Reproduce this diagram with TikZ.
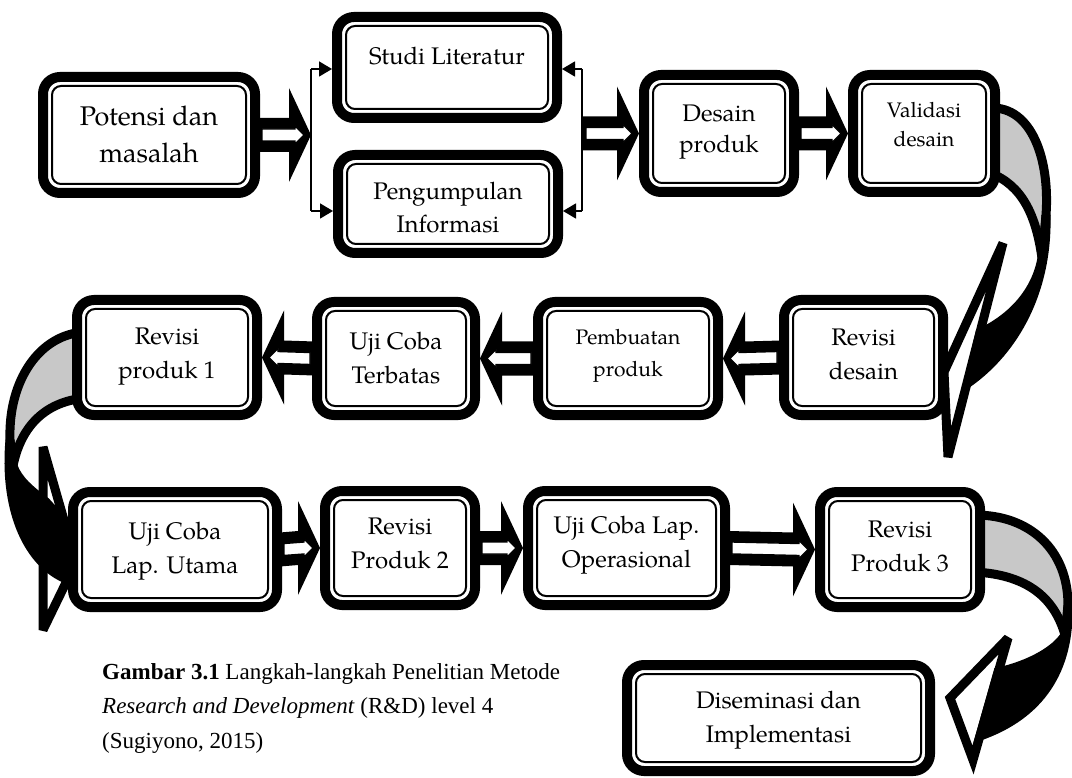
\documentclass[tikz,border=0pt]{standalone}
\usepackage{fontspec}
\setmainfont{TeX Gyre Pagella}
\newfontfamily\capfont{Liberation Serif}
\usetikzlibrary{calc,arrows.meta}
\definecolor{backgray}{RGB}{200,200,200}
\newcommand{\blockarrow}[3]{%
  \fill[black] ($(#1)+(0,-17)$) -- ($(#2)+({-22*#3},-17)$) -- ($(#2)+({-22*#3},-47)$) -- (#2) -- ($(#2)+({-22*#3},47)$) -- ($(#2)+({-22*#3},17)$) -- ($(#1)+(0,17)$) -- cycle;
  \draw[line width=1.4pt, fill=white] ($(#1)+({4*#3},-6)$) -- ($(#2)+({-16*#3},-6)$) -- ($(#2)+({-16*#3},-9)$) -- ($(#2)+({-7*#3},0)$) -- ($(#2)+({-16*#3},9)$) -- ($(#2)+({-16*#3},6)$) -- ($(#1)+({4*#3},6)$) -- cycle;
}
\begin{document}
\begin{tikzpicture}[x=1pt,y=-1pt,
  box/.style={draw=black, line width=10pt, rounded corners=17pt, fill=white, inner sep=0pt},
  innerline/.style={draw=black, line width=2pt, rounded corners=9pt},
  txt/.style={inner sep=0pt, align=center, font=\fontsize{24}{34}\selectfont},
  brk/.style={draw=black, line width=1.5pt},
  curv/.style={draw=black, line width=9pt, line join=miter, miter limit=4},
  backf/.style={curv, fill=backgray},
  frontf/.style={curv, fill=black},
  headf/.style={curv, fill=white}
]
\fill[white] (0,0) rectangle (1072,778);
\useasboundingbox (0,0) rectangle (1072,778);

% ---- curved arrows (behind boxes)
% A: Validasi desain -> Revisi desain
\draw[backf] (990,108) .. controls (1032,106) and (1050,160) .. (1046,215) .. controls (1045,235) and (1044,248) .. (1042,258) .. controls (1036,215) and (1022,185) .. (990,173) -- cycle;
\draw[headf] (1003,243) -- (944,372) -- (948,457) -- cycle;
\draw[frontf] (1046,215) .. controls (1048,290) and (1015,350) .. (968,383) -- (980,333) .. controls (1012,318) and (1036,292) .. (1042,258) -- cycle;
% B: Revisi produk 1 -> Uji Coba Lap. Utama
\draw[backf] (85,332) .. controls (40,334) and (8,380) .. (10,440) .. controls (10,450) and (11,458) .. (13,466) .. controls (20,430) and (42,402) .. (85,398) -- cycle;
\draw[headf] (43,447) -- (76,562) -- (43,630) -- cycle;
\draw[frontf] (10,440) .. controls (4,505) and (25,560) .. (64,578) -- (64,522) -- (46,502) .. controls (30,490) and (18,480) .. (13,466) -- cycle;
% C: Revisi Produk 3 -> Diseminasi
\draw[backf] (975,515) .. controls (1030,515) and (1068,550) .. (1068,605) .. controls (1068,615) and (1067,625) .. (1065,635) .. controls (1055,600) and (1030,575) .. (975,572) -- cycle;
\draw[headf] (1008,638) -- (950,698) -- (973,760) -- cycle;
\draw[frontf] (1068,605) .. controls (1070,670) and (1040,715) .. (980,736) -- (998,672) .. controls (1030,665) and (1056,650) .. (1065,635) -- cycle;

% ---- boxes
\node[box, minimum width=212pt, minimum height=116pt] (p) at (149,135) {};
\node[box, minimum width=220pt, minimum height=101pt] (sl) at (447,67.5) {};
\node[box, minimum width=220pt, minimum height=98pt] (pi) at (448,204) {};
\node[box, minimum width=150pt, minimum height=117pt] (dp) at (719,133.5) {};
\node[box, minimum width=142pt, minimum height=117pt] (vd) at (924,133.5) {};
\node[box, minimum width=180pt, minimum height=115pt] (rp1) at (167,357.5) {};
\node[box, minimum width=158pt, minimum height=113pt] (uct) at (396,358.5) {};
\node[box, minimum width=180pt, minimum height=113pt] (pp) at (628,358.5) {};
\node[box, minimum width=159pt, minimum height=115pt] (rd) at (863.5,357.5) {};
\node[box, minimum width=204pt, minimum height=115pt] (uclu) at (175,549.5) {};
\node[box, minimum width=150pt, minimum height=114pt] (rp2) at (400,548) {};
\node[box, minimum width=197pt, minimum height=114pt] (uclo) at (626.5,548) {};
\node[box, minimum width=160pt, minimum height=115pt] (rp3) at (900,549.5) {};
\node[box, minimum width=303pt, minimum height=106pt] (di) at (778.5,718) {};
\foreach \n in {p,sl,pi,dp,vd,rp1,uct,pp,rd,uclu,rp2,uclo,rp3,di}{
  \draw[innerline] ([xshift=14pt,yshift=-14pt]\n.north west) rectangle ([xshift=-14pt,yshift=14pt]\n.south east);
}

% ---- texts
\node[txt, font=\fontsize{27}{37}\selectfont] (p-t) at (149,134) {Potensi dan\\masalah};
\node[txt] (sl-t) at (447,56.5) {Studi Literatur};
\node[txt, font=\fontsize{24}{33}\selectfont] (pi-t) at (448,208) {Pengumpulan\\Informasi};
\node[txt, font=\fontsize{24}{31}\selectfont] (dp-t) at (719,132) {Desain\\produk};
\node[txt, font=\fontsize{21}{29}\selectfont] (vd-t) at (924,125) {Validasi\\desain};
\node[txt] (rp1-t) at (167,357) {Revisi\\produk 1};
\node[txt] (uct-t) at (396,358) {Uji Coba\\Terbatas};
\node[txt, font=\fontsize{21}{32}\selectfont] (pp-t) at (628,356) {Pembuatan\\produk};
\node[txt] (rd-t) at (863.5,354) {Revisi\\desain};
\node[txt] (uclu-t) at (175,551) {Uji Coba\\Lap. Utama};
\node[txt] (rp2-t) at (400,543.5) {Revisi\\Produk 2};
\node[txt] (uclo-t) at (626.5,545) {Uji Coba Lap.\\Operasional};
\node[txt] (rp3-t) at (900,546.5) {Revisi\\Produk 3};
\node[txt] (di-t) at (778.5,720) {Diseminasi dan\\Implementasi};

% ---- brackets
\coordinate (bLt) at (311,69);
\coordinate (bLb) at (311,211);
\coordinate (bLc) at (311,135);
\coordinate (bRt) at (582,69);
\coordinate (bRb) at (582,211);
\coordinate (bRc) at (582,133.5);
\draw[brk] (bLt) -- (bLb);
\draw[brk] (bRt) -- (bRb);
\draw[brk,-{Triangle[length=13pt,width=15pt]}] (bLt) -- (bLt -| sl.west);
\draw[brk,-{Triangle[length=13pt,width=15pt]}] (bLb) -- (bLb -| pi.west);
\draw[brk,-{Triangle[length=13pt,width=15pt]}] (bRt) -- (bRt -| sl.east);
\draw[brk,-{Triangle[length=13pt,width=15pt]}] (bRb) -- (bRb -| pi.east);

% ---- block arrows
\coordinate (a1s) at ($(p.east)+(-2,0)$);
\coordinate (a2t) at (dp.west);
\coordinate (a3s) at ($(dp.east)+(-2,0)$);
\coordinate (a3t) at (vd.west);
\coordinate (a4s) at ($(rd.west)+(2,0)$);
\coordinate (a4t) at (pp.east);
\coordinate (a5s) at ($(pp.west)+(2,0)$);
\coordinate (a5t) at (uct.east);
\coordinate (a6s) at ($(uct.west)+(2,0)$);
\coordinate (a6t) at (rp1.east);
\coordinate (a7s) at ($(uclu.east)+(-2,0)$);
\coordinate (a7t) at (rp2.west);
\coordinate (a8s) at ($(rp2.east)+(-2,0)$);
\coordinate (a8t) at (uclo.west);
\coordinate (a9s) at ($(uclo.east)+(-2,0)$);
\coordinate (a9t) at (rp3.west);
\blockarrow{a1s}{bLc}{1}
\blockarrow{bRc}{a2t}{1}
\blockarrow{a3s}{a3t}{1}
\blockarrow{a4s}{a4t}{-1}
\blockarrow{a5s}{a5t}{-1}
\blockarrow{a6s}{a6t}{-1}
\blockarrow{a7s}{a7t}{1}
\blockarrow{a8s}{a8t}{1}
\blockarrow{a9s}{a9t}{1}

% ---- caption
\node[anchor=north west, inner sep=0pt, align=left, font=\capfont\fontsize{23}{34.5}\selectfont] (cap) at (102,663)
  {\textbf{Gambar 3.1} Langkah-langkah Penelitian Metode\\
   \textit{Research and Development} (R\&D) level 4\\
   (Sugiyono, 2015)};
\end{tikzpicture}
\end{document}
